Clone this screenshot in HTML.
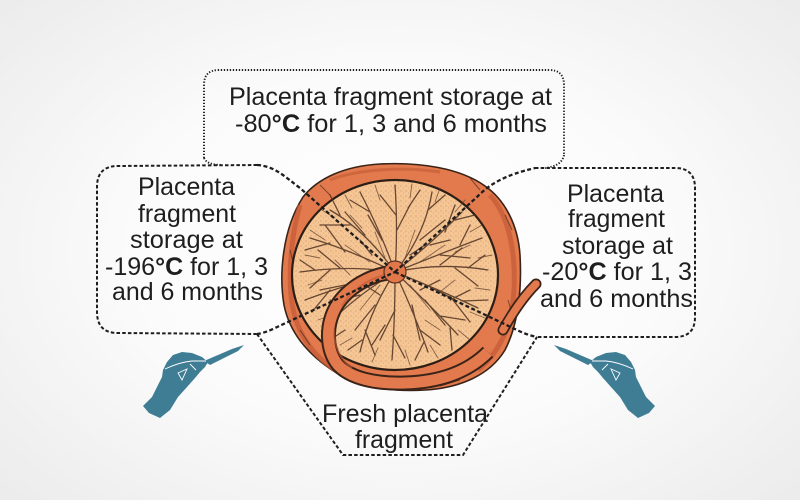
<!DOCTYPE html>
<html>
<head>
<meta charset="utf-8">
<style>
  html,body{margin:0;padding:0;}
  body{width:800px;height:500px;overflow:hidden;
    background:radial-gradient(ellipse 75% 80% at 50% 50%, #ffffff 0%, #fbfbfb 45%, #efefef 80%, #e9e9e9 100%);}
  svg{display:block;}
  text{font-family:"Liberation Sans", Arial, sans-serif;font-size:25px;fill:#1e1e1e;}
</style>
</head>
<body>
<svg width="800" height="500" viewBox="0 0 800 500" xmlns="http://www.w3.org/2000/svg">
  <defs>
    <pattern id="stip" width="5" height="5" patternUnits="userSpaceOnUse">
      <circle cx="1" cy="1" r="0.6" fill="#a8764f" opacity="0.6"/>
      <circle cx="3.5" cy="3" r="0.5" fill="#a8764f" opacity="0.45"/>
    </pattern>
  </defs>

  <!-- Placenta rim -->
  <path d="M303,197 C318,178 345,166 380,164 C420,162 460,168 485,186 C505,200 518,225 520,255 C522,290 518,325 505,350 C490,375 460,388 425,390 C395,392 360,388 335,372 C310,356 290,335 284,305 C279,275 282,230 303,197 Z"
        fill="#e27a4d" stroke="#3a2318" stroke-width="1.6"/>
  <path d="M300,205 C290,240 286,290 296,320 C306,350 330,372 360,382" fill="none" stroke="#c35a36" stroke-width="5" opacity="0.7"/>
  <path d="M490,195 C508,215 516,250 514,290 C512,325 500,352 478,370" fill="none" stroke="#c35a36" stroke-width="5" opacity="0.7"/>
  <path d="M330,180 C355,170 400,166 440,172" fill="none" stroke="#c35a36" stroke-width="3" opacity="0.6"/>
  <path d="M505,215 L512,230 M508,300 L514,320 M290,250 L295,270 M300,330 L310,345 M320,185 L330,195 M470,178 L480,190 M360,382 L380,388 M440,386 L460,380" stroke="#3a2318" stroke-width="1" opacity="0.6"/>

  <!-- inner disk -->
  <ellipse cx="395" cy="275" rx="103" ry="95" fill="#f6c594" stroke="#2e1f16" stroke-width="2.2"/>
  <ellipse cx="395" cy="275" rx="101" ry="93" fill="url(#stip)"/>

  <!-- veins -->
  <g fill="none" stroke="#4e3222" stroke-width="1.3" stroke-linecap="round" opacity="0.85">
    <path d="M395,272 Q440,262 488,270 M440,265 L462,248 M455,268 L478,286 M468,268 L485,255"/>
    <path d="M395,272 Q440,290 478,308 M430,287 L455,300 M450,296 L470,322 M462,301 L488,300"/>
    <path d="M395,272 Q430,305 458,335 M425,300 L445,325 M440,316 L465,320 M450,328 L452,350"/>
    <path d="M395,272 Q415,315 428,352 M412,305 L420,340 M420,330 L440,345 M424,342 L415,360"/>
    <path d="M395,272 Q395,320 392,360 M395,310 L380,340 M393,335 L405,358 M385,325 L372,345"/>
    <path d="M395,272 Q370,310 360,352 M375,305 L355,330 M365,330 L375,355 M362,340 L348,350"/>
    <path d="M395,272 Q350,300 325,328 M360,295 L340,300 M340,312 L330,300"/>
    <path d="M395,272 Q345,285 305,300 M345,285 L320,290 M330,290 L312,312"/>
    <path d="M395,272 Q350,265 300,272 M340,268 L318,250 M330,270 L310,288 M315,270 L300,260"/>
    <path d="M395,272 Q350,250 310,238 M345,252 L325,225 M330,243 L305,250"/>
    <path d="M395,272 Q365,230 330,210 M365,235 L345,212 M350,225 L320,225 M340,215 L330,195"/>
    <path d="M395,272 Q380,230 360,192 M382,240 L368,215 M370,212 L350,200"/>
    <path d="M395,272 Q398,230 395,185 M397,230 L410,205 M396,215 L380,195 M408,208 L420,190"/>
    <path d="M395,272 Q425,235 432,192 M420,240 L445,220 M428,210 L445,195"/>
    <path d="M395,272 Q430,245 462,212 M430,245 L450,240 M445,232 L455,205 M455,220 L475,215"/>
    <path d="M395,272 Q450,250 482,238 M440,255 L470,258 M460,245 L470,225"/>
    <path d="M360,240 L372,255 M420,290 L440,280 M380,295 L365,285 M410,255 L425,245 M345,330 L330,340 M450,300 L470,290"/>
  </g>
  <g fill="none" stroke="#5a3a28" stroke-width="0.9" stroke-linecap="round" opacity="0.7">
    <path d="M310,230 L325,240 M305,255 L320,258 M308,285 L322,280 M318,320 L332,315 M340,345 L352,338 M372,362 L378,348 M410,365 L405,350 M438,358 L430,345 M470,340 L458,330 M485,318 L470,312 M490,290 L475,288 M492,255 L478,258 M482,225 L470,232 M465,200 L455,212 M440,188 L435,202 M412,184 L410,198 M375,185 L380,200 M345,195 L352,208 M322,210 L335,218"/>
    <path d="M420,262 L445,245 M370,262 L345,245 M410,285 L430,310 M380,285 L360,310 M405,258 L415,230 M385,258 L375,232"/>
    <path d="M335,260 L350,275 M455,280 L440,292 M440,330 L425,320 M350,215 L362,228 M470,245 L455,252"/>
  </g>

  <!-- umbilical cord -->
  <path d="M395,272 C370,274 348,288 337,305 C325,325 326,350 338,365 C350,378 375,384 405,383 C440,382 468,372 488,352" fill="none" stroke="#3a2318" stroke-width="15" stroke-linecap="butt"/>
  <path d="M395,272 C370,274 348,288 337,305 C325,325 326,350 338,365 C350,378 375,384 405,383 C440,382 468,372 488,352" fill="none" stroke="#e27a4d" stroke-width="11" stroke-linecap="butt"/>
  <path d="M385,275 C365,280 350,292 342,306" fill="none" stroke="#c35a36" stroke-width="2" opacity="0.7"/>
  <path d="M334,330 C334,345 340,360 352,368" fill="none" stroke="#c35a36" stroke-width="2" opacity="0.6"/>
  <!-- cord stub right -->
  <path d="M503,330 C513,312 524,296 536,284" fill="none" stroke="#3a2318" stroke-width="11" stroke-linecap="round"/>
  <path d="M503,330 C513,312 524,296 536,284" fill="none" stroke="#e27a4d" stroke-width="7.5" stroke-linecap="round"/>
  <!-- center blob -->
  <circle cx="395" cy="272" r="11" fill="#e2774a" stroke="#5a3020" stroke-width="1.2"/>

  <!-- Top box (fine dotted) -->
  <g fill="none" stroke="#1e1e1e" stroke-width="1.9" stroke-dasharray="1.3 1.7">
    <path d="M204,158 L204,85 Q204,70 219,70 L549,70 Q564,70 564,85 L564,155"/>
    <path d="M204,158 Q207,165 222,165"/>
    <path d="M564,155 Q562,166 545,168"/>
  </g>

  <!-- dashed boxes & connectors -->
  <g fill="none" stroke="#1e1e1e" stroke-width="2" stroke-dasharray="3.5 2.2">
    <path d="M257,165 L118,166 Q97,166 97,187 L97,312 Q97,333 118,333 L257,334"/>
    <path d="M535,168 L675,168 Q695,168 695,188 L695,317 Q695,337 675,337 L537,337"/>
    <path d="M257,334 L343,455 L463,455 L537,337"/>
  </g>
  <g fill="none" stroke="#1e1e1e" stroke-width="2.3" stroke-dasharray="4 2.5">
    <path d="M257,165 C275,166 285,177 300,188 L395,272"/>
    <path d="M257,334 Q265,333 275,328 L395,272"/>
    <path d="M395,272 L478,196 C490,184 505,175 535,168"/>
    <path d="M395,272 L517,330 Q527,335 537,337"/>
  </g>

  <!-- Text -->
  <text x="229" y="105" textLength="323" lengthAdjust="spacingAndGlyphs">Placenta fragment storage at</text>
  <text x="235" y="132" textLength="312" lengthAdjust="spacingAndGlyphs">-80<tspan font-weight="bold">°C</tspan> for 1, 3 and 6 months</text>

  <text x="138" y="195" textLength="97" lengthAdjust="spacingAndGlyphs">Placenta</text>
  <text x="138" y="222" textLength="98" lengthAdjust="spacingAndGlyphs">fragment</text>
  <text x="130" y="248" textLength="113" lengthAdjust="spacingAndGlyphs">storage at</text>
  <text x="105" y="275" textLength="163" lengthAdjust="spacingAndGlyphs">-196<tspan font-weight="bold">°C</tspan> for 1, 3</text>
  <text x="112" y="300" textLength="151" lengthAdjust="spacingAndGlyphs">and 6 months</text>

  <text x="567" y="202" textLength="97" lengthAdjust="spacingAndGlyphs">Placenta</text>
  <text x="568" y="227" textLength="97" lengthAdjust="spacingAndGlyphs">fragment</text>
  <text x="562" y="254" textLength="111" lengthAdjust="spacingAndGlyphs">storage at</text>
  <text x="542" y="280" textLength="150" lengthAdjust="spacingAndGlyphs">-20<tspan font-weight="bold">°C</tspan> for 1, 3</text>
  <text x="540" y="307" textLength="153" lengthAdjust="spacingAndGlyphs">and 6 months</text>

  <text x="322" y="422" textLength="166" lengthAdjust="spacingAndGlyphs">Fresh placenta</text>
  <text x="355" y="448" textLength="98" lengthAdjust="spacingAndGlyphs">fragment</text>

  <!-- Left hand with scalpel -->
  <g>
    <path d="M143,406 L149,413 L160,418 L170,410 L178,397 L187,387 L195,378 L200,372 L205,367 L208,362 L202,357 L192,353 L182,352 L173,355 L167,362 L163,370 L162,377 L159,383 L152,397 Z" fill="#3f7d95"/>
    <path d="M204,361 L232,349 L244,345 L238,351 L210,365 Z" fill="#3f7d95"/>
    <path d="M165,369 Q180,362 192,361 L206,361" fill="none" stroke="#ffffff" stroke-width="0.9"/>
    <path d="M178,373 L187,369 L182,380 Z" fill="none" stroke="#ffffff" stroke-width="0.9"/>
    <path d="M190,364 L196,370" stroke="#ffffff" stroke-width="0.9"/>
  </g>
  <g transform="matrix(-1,0,0,1,798,0)">
    <path d="M143,406 L149,413 L160,418 L170,410 L178,397 L187,387 L195,378 L200,372 L205,367 L208,362 L202,357 L192,353 L182,352 L173,355 L167,362 L163,370 L162,377 L159,383 L152,397 Z" fill="#3f7d95"/>
    <path d="M204,361 L232,349 L244,345 L238,351 L210,365 Z" fill="#3f7d95"/>
    <path d="M165,369 Q180,362 192,361 L206,361" fill="none" stroke="#ffffff" stroke-width="0.9"/>
    <path d="M178,373 L187,369 L182,380 Z" fill="none" stroke="#ffffff" stroke-width="0.9"/>
    <path d="M190,364 L196,370" stroke="#ffffff" stroke-width="0.9"/>
  </g>
</svg>
</body>
</html>
